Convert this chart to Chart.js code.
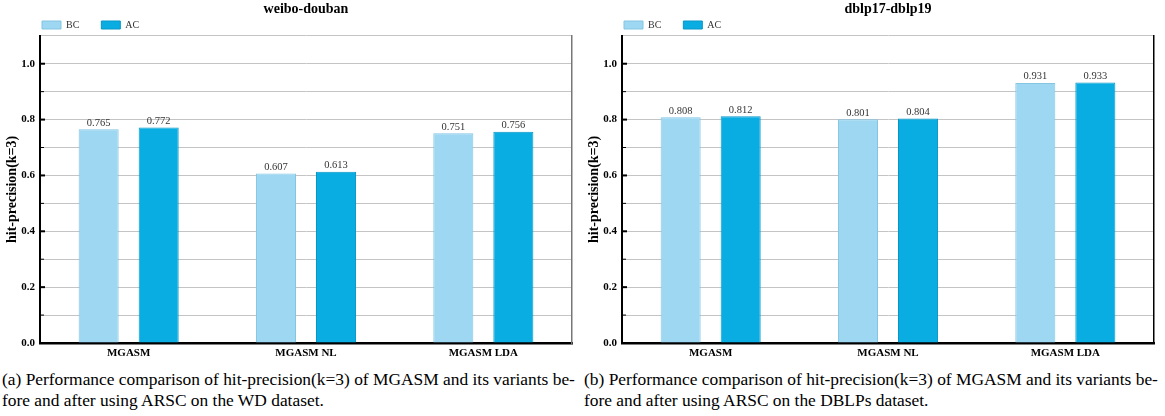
<!DOCTYPE html>
<html>
<head>
<meta charset="utf-8">
<script src="https://cdn.jsdelivr.net/npm/chart.js@4"></script>
<style>
body { margin: 0; background: #fff; width: 1165px; height: 416px; position: relative; overflow: hidden; }
.panel { position: absolute; top: 0; width: 580px; height: 360px; }
.cap { position: absolute; top: 369px; width: 580px; font-family: "Liberation Serif", "DejaVu Serif", serif; font-size: 17.4px; line-height: 21px; color: #000; white-space: nowrap; }
</style>
</head>
<body>
<div class="panel" style="left:0"><canvas id="wd"></canvas></div>
<div class="panel" style="left:582px"><canvas id="dblp"></canvas></div>
<div class="cap" style="left:2px">(a) Performance comparison of hit-precision(k=3) of MGASM and its variants be-<br>fore and after using ARSC on the WD dataset.</div>
<div class="cap" style="left:584px">(b) Performance comparison of hit-precision(k=3) of MGASM and its variants be-<br>fore and after using ARSC on the DBLPs dataset.</div>
<script>
// data
const categories = ["MGASM", "MGASM NL", "MGASM LDA"];
const wdBC = [0.765, 0.607, 0.751];
const wdAC = [0.772, 0.613, 0.756];
const dblpBC = [0.808, 0.801, 0.931];
const dblpAC = [0.812, 0.804, 0.933];

const serif = "'Liberation Serif', 'DejaVu Serif', serif";

// numbers on top of the bars
const valueLabels = {
    id: "valueLabels",
    afterDatasetsDraw(chart) {
        const ctx = chart.ctx;
        ctx.save();
        ctx.font = "10.5px " + serif;
        ctx.fillStyle = "#333";
        ctx.textAlign = "center";
        ctx.textBaseline = "bottom";
        chart.data.datasets.forEach((ds, i) => {
            chart.getDatasetMeta(i).data.forEach((bar, j) => {
                ctx.fillText(ds.data[j].toFixed(3), bar.x, bar.y - 1);
            });
        });
        ctx.restore();
    },
};

// inward tick marks on the y axis, title/legend lined up with the plot
const frameBits = {
    id: "frameBits",
    afterLayout(chart) {
        const a = chart.chartArea;
        if (chart.titleBlock) {
            chart.titleBlock.left = a.left;
            chart.titleBlock.right = a.right;
        }
        if (chart.legend) {
            const pad = chart.legend.options.labels.padding;
            chart.legend.left = a.left + 2 - pad;
            chart.legend.top = 26 - 6 - pad;
        }
    },
    afterDraw(chart) {
        const ctx = chart.ctx;
        const y = chart.scales.y;
        const left = chart.chartArea.left;
        ctx.save();
        ctx.strokeStyle = "#000";
        y.ticks.forEach((t) => {
            const n = Math.round(t.value * 10);
            if (n <= 0 || n > 10) return;
            const py = y.getPixelForValue(t.value);
            const major = n % 2 === 0;
            ctx.lineWidth = major ? 2 : 1;
            ctx.beginPath();
            ctx.moveTo(left, py);
            ctx.lineTo(left + (major ? 5 : 4), py);
            ctx.stroke();
        });
        ctx.restore();
    },
};

function makeChart(id, title, bc, ac, edgeColor) {
    const ctx = document.getElementById(id).getContext("2d");
    return new Chart(ctx, {
        type: "bar",
        data: {
            labels: categories,
            datasets: [
                {
                    label: "BC",
                    data: bc,
                    backgroundColor: "#9dd7f1",
                    borderColor: "#84c5e2",
                    borderWidth: 1,
                    categoryPercentage: 0.677,
                    barPercentage: 0.667,
                },
                {
                    label: "AC",
                    data: ac,
                    backgroundColor: "#0aade2",
                    borderColor: "#0797c8",
                    borderWidth: 1,
                    categoryPercentage: 0.677,
                    barPercentage: 0.667,
                },
            ],
        },
        options: {
            responsive: true,
            maintainAspectRatio: false,
            animation: false,
            layout: { padding: { left: 0, right: 8, top: 0, bottom: 0 } },
            plugins: {
                title: {
                    display: true,
                    text: title,
                    color: "#000",
                    font: { family: serif, size: 14, weight: "bold" },
                    padding: { top: 1, bottom: 2 },
                },
                legend: {
                    position: "top",
                    align: "start",
                    maxHeight: 16,
                    labels: {
                        boxWidth: 19,
                        boxHeight: 8,
                        padding: 22,
                        color: "#333",
                        font: { family: serif, size: 10 },
                    },
                },
                tooltip: { enabled: false },
            },
            scales: {
                x: {
                    grid: { display: false, drawTicks: false },
                    border: { color: "#000", width: 2.5 },
                    ticks: {
                        color: "#000",
                        padding: 4,
                        font: { family: serif, size: 11, weight: "bold" },
                    },
                    afterFit(s) { s.height = 17; },
                },
                y: {
                    min: 0,
                    max: 1.1,
                    ticks: {
                        stepSize: 0.1,
                        padding: 5,
                        color: "#000",
                        font: { family: serif, size: 11, weight: "bold" },
                        callback(v) {
                            const n = Math.round(v * 10);
                            return n % 2 === 0 && n <= 10 ? (n / 10).toFixed(1) : "";
                        },
                    },
                    grid: { color: "#c4c4c4", lineWidth: 1, drawTicks: false },
                    border: { color: "#000", width: 2 },
                    title: {
                        display: true,
                        text: "hit-precision(k=3)",
                        color: "#000",
                        padding: { top: 4, bottom: 2 },
                        font: { family: serif, size: 14, weight: "bold" },
                    },
                    afterFit(s) { s.width = 40; },
                },
                y2: {
                    position: "right",
                    display: true,
                    grid: { drawOnChartArea: false, drawTicks: false },
                    ticks: { display: false },
                    border: { color: edgeColor, width: 1.5 },
                    afterFit(s) { s.width = 0; },
                },
            },
        },
        plugins: [valueLabels, frameBits],
    });
}

makeChart("wd", "weibo-douban", wdBC, wdAC, "#777");
makeChart("dblp", "dblp17-dblp19", dblpBC, dblpAC, "#000");
</script>
</body>
</html>
